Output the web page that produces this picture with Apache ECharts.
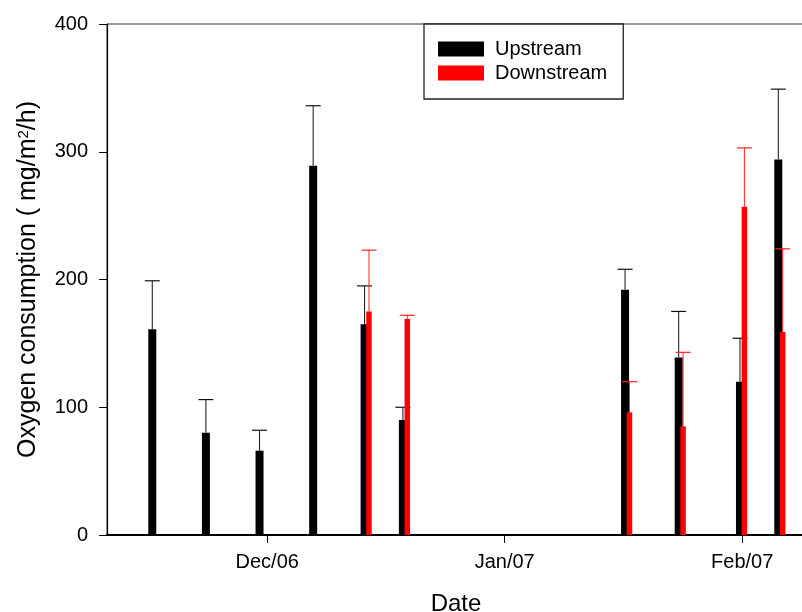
<!DOCTYPE html>
<html><head><meta charset="utf-8">
<script src="https://cdn.jsdelivr.net/npm/echarts@6/dist/echarts.min.js"></script>
<style>html,body{margin:0;padding:0;background:#fff}#c{width:802px;height:612px}</style>
</head><body><div id="c"></div>
<script>
// ---- data ----
const dates = ['2006-11-16','2006-11-23','2006-11-30','2006-12-07','2006-12-14','2006-12-19','2007-01-17','2007-01-24','2007-02-01','2007-02-06'];
const upstream = [161, 80, 66, 289, 165, 90, 192, 139, 120, 294];
const upstreamErr = [38, 26, 16, 47, 30, 10, 16, 36, 34, 55];
const downstream = [null, null, null, null, 175, 169, 96, 85, 257, 159];
const downstreamErr = [null, null, null, null, 48, 3, 24, 58, 46, 65];
const tickDates = ['2006-12-01', '2007-01-01', '2007-02-01'];
const tickLabels = ['Dec/06', 'Jan/07', 'Feb/07'];
const seriesNames = ['Upstream', 'Downstream'];

const DAY = 86400000;
function toMs(s) { const p = s.split('-').map(Number); return Date.UTC(p[0], p[1] - 1, p[2]); }
const ORIGIN = toMs(tickDates[0]);
function toDay(s) { return Math.round((toMs(s) - ORIGIN) / DAY); }
const tickDays = tickDates.map(toDay);
const FONT = 'Liberation Sans, Arial, sans-serif';

function makeRender(isUp, color) {
  return function (params, api) {
    const i = params.dataIndex;
    const v = api.value(1);
    if (v == null || isNaN(v)) return null;
    const t = api.value(0), e = api.value(2);
    const paired = upstream[i] != null && downstream[i] != null;
    const top = api.coord([t, v]);
    const base = api.coord([t, 0]);
    const et = api.coord([t, v + e]);
    const w = isUp ? 8 : 5.5;
    const off = paired ? (isUp ? -2.2 : 2.2) : 0;
    const cx = top[0] + off;
    const lineColor = isUp ? '#111' : '#ff2020';
    return {
      type: 'group',
      children: [
        { type: 'rect', shape: { x: cx - w / 2, y: top[1], width: w, height: base[1] - top[1] }, style: { fill: color } },
        { type: 'line', shape: { x1: cx, y1: top[1], x2: cx, y2: et[1] }, style: { stroke: lineColor, lineWidth: 1 } },
        { type: 'line', shape: { x1: cx - 7.5, y1: et[1], x2: cx + 7.5, y2: et[1] }, style: { stroke: lineColor, lineWidth: 1.2 } }
      ]
    };
  };
}

const upData = dates.map((d, i) => [toDay(d), upstream[i], upstreamErr[i]]);
const downData = dates.map((d, i) => [toDay(d), downstream[i] == null ? '-' : downstream[i], downstreamErr[i] == null ? 0 : downstreamErr[i]]);

const chart = echarts.init(document.getElementById('c'), null, { renderer: 'canvas' });
chart.setOption({
  animation: false,
  color: ['#000000', '#ff0000'],
  textStyle: { fontFamily: FONT },
  grid: { left: 107, right: -3, top: 24, bottom: 77, show: true, borderColor: '#333', borderWidth: 1, containLabel: false, outerBoundsMode: 'none' },
  legend: {
    data: seriesNames,
    orient: 'vertical',
    left: 424, top: 24,
    icon: 'rect',
    itemWidth: 46, itemHeight: 15, itemGap: 4,
    padding: [15, 16, 16, 14],
    borderColor: '#222', borderWidth: 1.3,
    backgroundColor: '#fff',
    textStyle: { fontSize: 20, color: '#000', fontFamily: FONT, lineHeight: 20, padding: [0, 0, 0, 6] }
  },
  xAxis: {
    type: 'value',
    min: -20.91,
    max: 70.2,
    name: 'Date',
    nameLocation: 'middle',
    nameGap: 57,
    nameTextStyle: { fontSize: 24, color: '#000', fontFamily: FONT },
    axisLine: { onZero: false, lineStyle: { color: '#000', width: 2 } },
    axisTick: { show: true, inside: false, length: 8, lineStyle: { color: '#000', width: 1 }, customValues: tickDays },
    axisLabel: {
      customValues: tickDays,
      fontSize: 20, color: '#000', margin: 17, fontFamily: FONT,
      formatter: function (val) { const k = tickDays.indexOf(Math.round(val)); return k >= 0 ? tickLabels[k] : ''; }
    },
    splitLine: { show: false }
  },
  yAxis: {
    type: 'value',
    min: 0, max: 400, interval: 100,
    name: 'Oxygen consumption ( mg/m{sup|2}/h)',
    nameLocation: 'middle',
    nameRotate: 90,
    nameGap: 66,
    nameTextStyle: {
      fontSize: 25, color: '#000', fontFamily: FONT,
      rich: { sup: { fontSize: 15, verticalAlign: 'top', color: '#000', fontFamily: FONT, padding: [0, 0, 8, 0] } }
    },
    axisLine: { show: true, onZero: false, lineStyle: { color: '#000', width: 1.2 } },
    axisTick: { show: true, inside: false, length: 8, lineStyle: { color: '#000', width: 1 } },
    axisLabel: { fontSize: 20, color: '#000', margin: 19, fontFamily: FONT },
    splitLine: { show: false }
  },
  series: [
    { name: seriesNames[0], type: 'custom', renderItem: makeRender(true, '#000000'), itemStyle: { color: '#000000' }, data: upData, z: 2, encode: { x: 0, y: 1 } },
    { name: seriesNames[1], type: 'custom', renderItem: makeRender(false, '#ff0000'), itemStyle: { color: '#ff0000' }, data: downData, z: 3, encode: { x: 0, y: 1 } }
  ]
});
</script>
</body></html>
